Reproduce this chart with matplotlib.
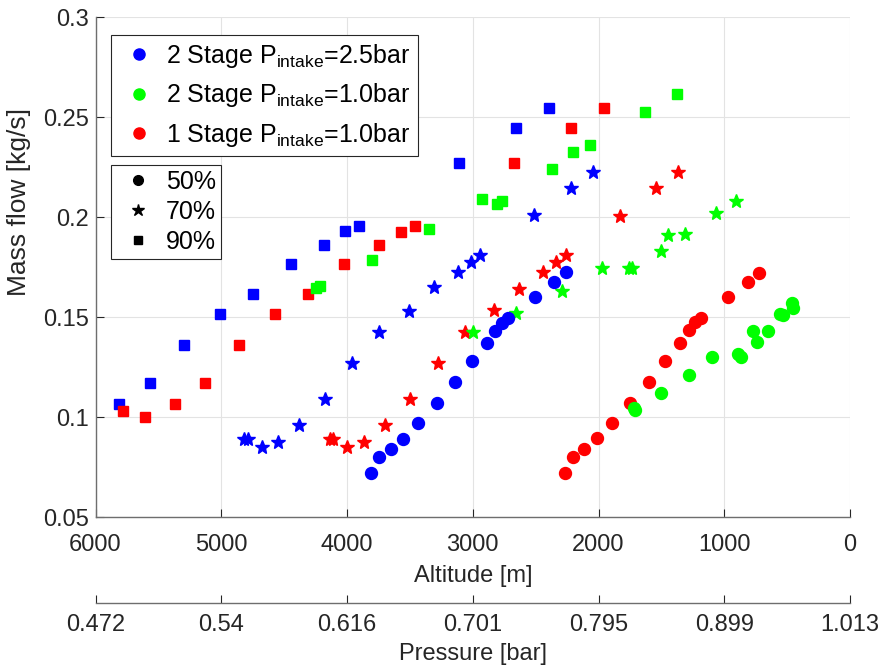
import matplotlib
matplotlib.use("Agg")
import matplotlib.pyplot as plt
from matplotlib.lines import Line2D

# altitude [m] and mass flow [kg/s]
# 2 Stage, P_intake = 2.5 bar (blue)
blue_50_alt = [3806, 3746, 3653, 3552, 3433, 3288, 3140, 3010, 2891, 2820, 2770, 2723, 2506, 2357, 2262]
blue_50_flow = [0.0719, 0.0802, 0.0839, 0.0892, 0.0969, 0.1072, 0.1175, 0.1280, 0.1370, 0.1432, 0.1472, 0.1493, 0.1599, 0.1675, 0.1724]
blue_70_alt = [4822, 4790, 4677, 4552, 4381, 4179, 3963, 3746, 3508, 3309, 3121, 3014, 2939, 2510, 2222, 2047]
blue_70_flow = [0.0892, 0.0892, 0.0852, 0.0877, 0.0959, 0.1089, 0.1272, 0.1424, 0.1532, 0.1648, 0.1727, 0.1773, 0.1810, 0.2008, 0.2143, 0.2224]
blue_90_alt = [5810, 5563, 5298, 5008, 4748, 4447, 4182, 4014, 3902, 3111, 2659, 2397]
blue_90_flow = [0.1064, 0.1171, 0.1360, 0.1515, 0.1615, 0.1767, 0.1862, 0.1928, 0.1955, 0.2272, 0.2444, 0.2547]

# 2 Stage, P_intake = 1.0 bar (green)
green_50_alt = [1722, 1709, 1504, 1281, 1097, 889, 871, 772, 743, 655, 556, 531, 460, 457]
green_50_flow = [0.1044, 0.1035, 0.1119, 0.1212, 0.1300, 0.1316, 0.1300, 0.1428, 0.1374, 0.1429, 0.1514, 0.1512, 0.1569, 0.1545]
green_70_alt = [2997, 2655, 2290, 1974, 1760, 1736, 1501, 1447, 1312, 1063, 907]
green_70_flow = [0.1423, 0.1519, 0.1629, 0.1744, 0.1744, 0.1744, 0.1830, 0.1909, 0.1914, 0.2019, 0.2082]
green_90_alt = [4248, 4217, 3802, 3346, 2923, 2806, 2767, 2370, 2203, 2066, 1627, 1378]
green_90_flow = [0.1645, 0.1655, 0.1787, 0.1939, 0.2090, 0.2065, 0.2082, 0.2240, 0.2327, 0.2359, 0.2527, 0.2614]

# 1 Stage, P_intake = 1.0 bar (red)
red_50_alt = [2270, 2206, 2113, 2010, 1893, 1748, 1600, 1469, 1350, 1278, 1232, 1185, 968, 814, 722]
red_50_flow = [0.0719, 0.0802, 0.0839, 0.0894, 0.0970, 0.1072, 0.1175, 0.1280, 0.1370, 0.1433, 0.1473, 0.1493, 0.1598, 0.1674, 0.1722]
red_70_alt = [4137, 4111, 3997, 3867, 3698, 3497, 3280, 3060, 2828, 2629, 2439, 2338, 2259, 1833, 1542, 1365]
red_70_flow = [0.0890, 0.0890, 0.0852, 0.0877, 0.0959, 0.1089, 0.1272, 0.1424, 0.1535, 0.1640, 0.1727, 0.1777, 0.1810, 0.2007, 0.2144, 0.2224]
red_90_alt = [5783, 5606, 5370, 5127, 4857, 4571, 4314, 4024, 3746, 3571, 3460, 2669, 2222, 1960]
red_90_flow = [0.1032, 0.1002, 0.1064, 0.1171, 0.1360, 0.1514, 0.1615, 0.1767, 0.1860, 0.1927, 0.1955, 0.2272, 0.2444, 0.2544]

altitude_ticks = [6000, 5000, 4000, 3000, 2000, 1000, 0]
pressure_labels = ["0.472", "0.54", "0.616", "0.701", "0.795", "0.899", "1.013"]
flow_ticks = [0.05, 0.1, 0.15, 0.2, 0.25, 0.3]
flow_labels = ["0.05", "0.1", "0.15", "0.2", "0.25", "0.3"]

series_labels = [
    r"2 Stage P$_{\mathrm{intake}}$=2.5bar",
    r"2 Stage P$_{\mathrm{intake}}$=1.0bar",
    r"1 Stage P$_{\mathrm{intake}}$=1.0bar",
]
load_labels = ["50%", "70%", "90%"]


def main() -> None:
    plt.rcParams["font.family"] = ["Liberation Sans", "DejaVu Sans"]
    plt.rcParams["mathtext.fontset"] = "custom"
    plt.rcParams["mathtext.rm"] = "Liberation Sans"
    plt.rcParams["mathtext.it"] = "Liberation Sans:italic"
    plt.rcParams["font.size"] = 16

    fig = plt.figure(figsize=(8.83, 6.68), dpi=100)
    ax = fig.add_axes([0.1082, 0.2260, 0.8545, 0.7485])

    axis_col = "#262626"
    spine_col = "#6e6e6e"
    blue, green, red = "#0000ff", "#00ff00", "#ff0000"

    sets = [
        (blue_90_alt, blue_90_flow, blue, "s", 7.2),
        (red_90_alt, red_90_flow, red, "s", 7.2),
        (green_90_alt, green_90_flow, green, "s", 7.2),
        (blue_70_alt, blue_70_flow, blue, "*", 10.5),
        (red_70_alt, red_70_flow, red, "*", 10.5),
        (green_70_alt, green_70_flow, green, "*", 10.5),
        (blue_50_alt, blue_50_flow, blue, "o", 8.6),
        (red_50_alt, red_50_flow, red, "o", 8.6),
        (green_50_alt, green_50_flow, green, "o", 8.6),
    ]
    for alt, flow, col, mk, ms in sets:
        ax.plot(alt, flow, linestyle="none", marker=mk, markersize=ms,
                color=col, markeredgecolor=col, zorder=3)

    ax.set_xlim(6000, 0)
    ax.set_ylim(0.05, 0.3)
    ax.set_xticks(altitude_ticks)
    ax.set_yticks(flow_ticks)
    ax.set_yticklabels(flow_labels)
    ax.grid(True, color="#e3e3e3", linewidth=0.8, zorder=0)
    ax.set_axisbelow(True)
    for side in ["top", "right"]:
        ax.spines[side].set_visible(False)
    for side in ["left", "bottom"]:
        ax.spines[side].set_color(spine_col)
        ax.spines[side].set_linewidth(1.0)
    ax.tick_params(direction="in", length=6, width=0.8, color=axis_col,
                   labelsize=17, labelcolor=axis_col)
    ax.tick_params(axis="x", pad=12)
    ax.tick_params(axis="y", pad=5)
    ax.set_xlabel("Altitude [m]", fontsize=17, color=axis_col, labelpad=7)
    ax.set_ylabel("Mass flow [kg/s]", fontsize=19, color=axis_col)
    ax.yaxis.set_label_coords(-0.086, 0.63)

    # second bottom axis for the pressure scale
    ax2 = fig.add_axes([0.1082, 0.0973, 0.8545, 1e-6])
    ax2.set_xlim(6000, 0)
    ax2.set_xticks(altitude_ticks)
    ax2.set_xticklabels(pressure_labels)
    ax2.set_yticks([])
    for side in ["top", "left", "right"]:
        ax2.spines[side].set_visible(False)
    ax2.spines["bottom"].set_color(spine_col)
    ax2.spines["bottom"].set_linewidth(1.0)
    ax2.patch.set_visible(False)
    ax2.tick_params(direction="in", length=6, width=0.8, color=axis_col,
                    labelsize=17, labelcolor=axis_col, pad=8)
    ax2.set_xlabel("Pressure [bar]", fontsize=17, color=axis_col, labelpad=5)

    series_handles = [
        Line2D([], [], linestyle="none", marker="o", markersize=8, color=c)
        for c in [blue, green, red]
    ]
    leg1 = ax.legend(series_handles, series_labels, loc="upper left",
                     bbox_to_anchor=(0.021, 0.965), fontsize=18,
                     fancybox=False, framealpha=1, edgecolor=axis_col,
                     handlelength=1.64, handletextpad=0.26, labelspacing=0.45,
                     borderpad=0.3, borderaxespad=0)
    leg1.get_frame().set_linewidth(0.8)
    ax.add_artist(leg1)

    load_handles = [
        Line2D([], [], linestyle="none", marker=m, markersize=s, color="black")
        for m, s in [("o", 7), ("*", 9), ("s", 6)]
    ]
    leg2 = ax.legend(load_handles, load_labels, loc="upper left",
                     bbox_to_anchor=(0.02, 0.704), fontsize=18,
                     fancybox=False, framealpha=1, edgecolor=axis_col,
                     handlelength=1.76, handletextpad=0.24, labelspacing=0.24,
                     borderpad=0.2, borderaxespad=0)
    leg2.get_frame().set_linewidth(0.8)

    fig.savefig("out.png", dpi=100)


if __name__ == "__main__":
    main()
